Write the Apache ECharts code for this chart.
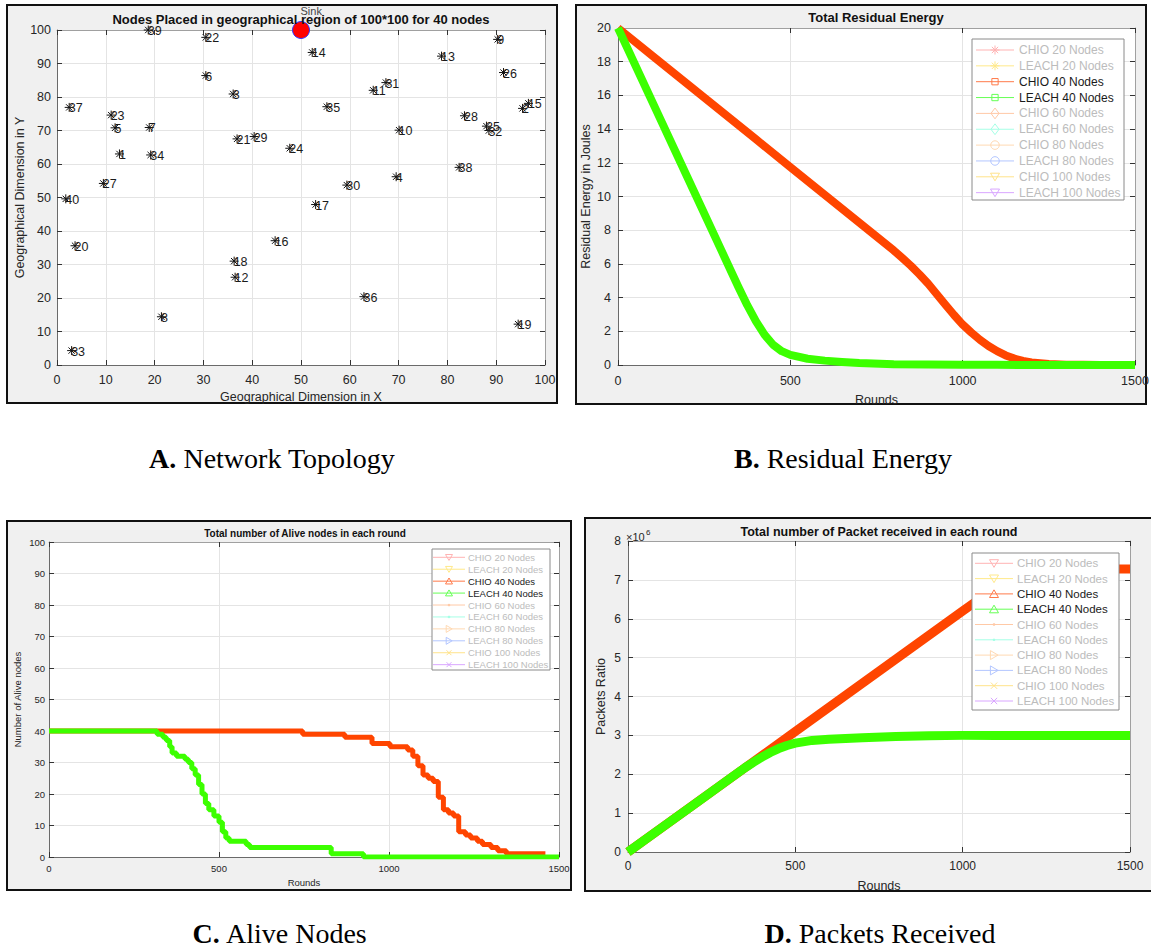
<!DOCTYPE html>
<html><head><meta charset="utf-8">
<script src="https://cdn.jsdelivr.net/npm/echarts@6/dist/echarts.min.js"></script>
<style>html,body{margin:0;padding:0;background:#fff}#c{width:1151px;height:949px}</style>
</head><body><div id="c"></div>
<script>
// ---------------- DATA ----------------
// A. Network topology
const nodeIds = [39,22,6,3,37,23,5,7,21,29,1,34,27,40,20,18,12,8,33,16,17,36,19,14,35,24,30,4,10,11,31,13,9,26,28,25,32,2,15,38];
const nodeX = [18.7,30.5,30.5,36.1,2.5,11.1,11.9,18.9,36.9,40.4,12.8,19.2,9.5,1.8,3.7,36.3,36.5,21.4,3.0,44.7,53.0,62.9,94.5,52.3,55.3,47.7,59.4,69.5,70.1,64.8,67.4,78.8,90.3,91.5,83.5,88.0,88.5,95.4,96.6,82.4];
const nodeY = [100,97.8,86.4,80.9,76.9,74.6,70.8,70.9,67.5,68.2,63.0,62.7,54.2,49.6,35.6,31.0,26.2,14.4,4.3,37.1,47.9,20.4,12.2,93.3,77.1,64.7,53.7,56.2,70.1,82.0,84.3,92.2,97.2,87.3,74.4,71.3,70.0,76.6,78.1,59.0];
const sinkX = 50, sinkY = 100;

// B. Residual energy (Joules)
const roundsCHIO40B = [0,100,200,300,400,500,600,700,800,825,850,875,900,925,950,975,1000,1025,1050,1075,1100,1125,1150,1175,1200,1250,1300,1350,1400,1450,1500];
const energyCHIO40 =  [20,18.35,16.7,15.05,13.4,11.75,10.1,8.45,6.8,6.35,5.88,5.37,4.82,4.2,3.58,2.97,2.4,1.93,1.5,1.13,0.82,0.57,0.38,0.24,0.15,0.06,0.02,0.01,0.005,0,0];
const roundsLEACH40B = [0,100,200,300,325,350,375,400,425,450,475,500,550,600,650,700,800,900,1000,1100,1200,1300,1400,1500];
const energyLEACH40 =  [20,15.6,11.2,6.8,5.7,4.6,3.55,2.6,1.8,1.2,0.82,0.6,0.37,0.26,0.18,0.12,0.05,0.03,0.02,0.01,0.005,0,0,0];

// C. Alive nodes (step data: round where level starts, level)
const aliveRoundsCHIO40 = [0,746,870,950,1003,1055,1070,1085,1100,1115,1130,1145,1160,1175,1190,1205,1225,1240,1260,1275,1300,1320,1345,1460];
const aliveCHIO40 =       [40,39,38,36,35,34,32,29,26,25,24,19,15,14,13,8,7,6,5,4,3,2,1,1];
const aliveRoundsLEACH40 = [0,318,335,345,355,362,375,400,410,420,430,440,450,460,470,485,500,510,520,530,580,590,830,925,1500];
const aliveLEACH40 =       [40,39,38,37,35,33,32,31,30,28,26,23,20,17,15,13,11,8,6,5,4,3,1,0,0];

// D. Packets received
const roundsCHIO40D = [0,500,1000,1175,1200,1300,1400,1500];
const packetsCHIO40 = [0,3100000,6200000,7270000,7270000,7280000,7280000,7280000];
const roundsLEACH40D = [0,100,200,300,350,375,400,425,450,475,500,550,600,700,800,900,1000,1100,1200,1300,1400,1500];
const packetsLEACH40 = [0,620000,1240000,1860000,2170000,2310000,2440000,2560000,2660000,2740000,2800000,2870000,2900000,2940000,2970000,2990000,3000000,3000000,3000000,3000000,3000000,3000000];

// Legend entries
const legendNames = ['CHIO 20 Nodes','LEACH 20 Nodes','CHIO 40 Nodes','LEACH 40 Nodes','CHIO 60 Nodes','LEACH 60 Nodes','CHIO 80 Nodes','LEACH 80 Nodes','CHIO 100 Nodes','LEACH 100 Nodes'];
const legendActive = [false,false,true,true,false,false,false,false,false,false];

// Titles / captions
const titleA = 'Nodes Placed in geographical region of 100*100 for 40 nodes';
const titleB = 'Total Residual Energy';
const titleC = 'Total number of Alive nodes in each round';
const titleD = 'Total number of Packet received in each round';

// ---------------- STYLE / LAYOUT ----------------
const SANS = "'Liberation Sans', Arial, Helvetica, sans-serif";
const SERIF = "'Liberation Serif', 'Times New Roman', serif";
const RED = '#ff4500', GREEN = '#3cff00';
const symbolsB = ['star','star','square','square','diamond','diamond','circle','circle','tridown','tridown'];
const symbolsCD = ['tridown','tridown','triup','triup','dot','dot','triright','triright','x','x'];
const legendColors = ['#ffb3b3','#ffe98a','#ff7a4a','#66ff55','#ffc9a6','#a6ffe6','#ffd9b3','#b3c6ff','#ffe38a','#d9a6ff'];

const grids = [
  {left:57, top:30, width:488, height:335},
  {left:618, top:28, width:517, height:337},
  {left:49, top:542, width:510, height:315},
  {left:628, top:541, width:502, height:311}
];

function axes(gi, o) {
  const lab = {color:'#262626', fontSize:o.fs, fontFamily:SANS};
  const xb = {gridIndex:gi, type:'value', position:'bottom', min:o.xmin, max:o.xmax, interval:o.xint,
    axisLine:{show:true, onZero:false, lineStyle:{color:'#6a6a6a', width:1}},
    axisTick:{show:true, inside:true, length:5, lineStyle:{color:'#333'}},
    axisLabel:Object.assign({margin:o.xm, formatter: v => String(v)}, lab),
    splitLine:{show:true, lineStyle:{color:'#e4e4e4', width:1}},
    name:o.xname, nameLocation:'middle', nameGap:o.xgap, nameTextStyle:{color:'#262626', fontSize:o.nfs, fontFamily:SANS}};
  const xt = {gridIndex:gi, type:'value', position:'top', min:o.xmin, max:o.xmax, interval:o.xint,
    axisLine:{show:true, onZero:false, lineStyle:{color:'#a0a0a0', width:1}},
    axisTick:{show:true, inside:true, length:5, lineStyle:{color:'#333'}},
    axisLabel:{show:false}, splitLine:{show:false}};
  const yl = {gridIndex:gi, type:'value', position:'left', min:o.ymin, max:o.ymax, interval:o.yint,
    axisLine:{show:true, onZero:false, lineStyle:{color:'#6a6a6a', width:1}},
    axisTick:{show:true, inside:true, length:5, lineStyle:{color:'#333'}},
    axisLabel:Object.assign({margin:o.ym, formatter:o.yfmt || (v => String(v))}, lab),
    splitLine:{show:true, lineStyle:{color:'#e4e4e4', width:1}},
    name:o.yname, nameLocation:'middle', nameGap:o.ygap, nameTextStyle:{color:'#262626', fontSize:o.nfs, fontFamily:SANS}};
  const yr = {gridIndex:gi, type:'value', position:'right', min:o.ymin, max:o.ymax, interval:o.yint,
    axisLine:{show:true, onZero:false, lineStyle:{color:'#a0a0a0', width:1}},
    axisTick:{show:true, inside:true, length:5, lineStyle:{color:'#333'}},
    axisLabel:{show:false}, splitLine:{show:false}};
  return {x:[xb, xt], y:[yl, yr]};
}

const axA = axes(0, {xmin:0,xmax:100,xint:10,ymin:0,ymax:100,yint:10,fs:12.5,nfs:12.5,xm:8,ym:6,
  xname:'Geographical Dimension in X', xgap:25, yname:'Geographical Dimension in Y', ygap:30});
const axB = axes(1, {xmin:0,xmax:1500,xint:500,ymin:0,ymax:20,yint:2,fs:12.5,nfs:12.5,xm:9,ym:7,
  xname:'Rounds', xgap:28, yname:'Residual Energy in Joules', ygap:26});
const axC = axes(2, {xmin:0,xmax:1500,xint:500,ymin:0,ymax:100,yint:10,fs:9.5,nfs:9.5,xm:6,ym:4,
  xname:'Rounds', xgap:20, yname:'Number of Alive nodes', ygap:27});
const axD = axes(3, {xmin:0,xmax:1500,xint:500,ymin:0,ymax:8000000,yint:1000000,fs:12,nfs:12.5,xm:8,ym:7,
  yfmt: v => String(v/1000000),
  xname:'Rounds', xgap:27, yname:'Packets Ratio', ygap:21});

function symbolEls(kind, cx, cy, s, color) {
  const st = {stroke:color, fill:'none', lineWidth:1};
  const L = (x1,y1,x2,y2) => ({type:'line', shape:{x1,y1,x2,y2}, style:st, z:51});
  const P = pts => ({type:'polygon', shape:{points:pts}, style:st, z:51});
  switch (kind) {
    case 'star': return [L(cx-s,cy,cx+s,cy), L(cx,cy-s,cx,cy+s), L(cx-s*.7,cy-s*.7,cx+s*.7,cy+s*.7), L(cx-s*.7,cy+s*.7,cx+s*.7,cy-s*.7)];
    case 'square': return [{type:'rect', shape:{x:cx-s*.7,y:cy-s*.7,width:s*1.4,height:s*1.4}, style:st, z:51}];
    case 'diamond': return [P([[cx,cy-s*1.2],[cx+s*.9,cy],[cx,cy+s*1.2],[cx-s*.9,cy]])];
    case 'circle': return [{type:'circle', shape:{cx, cy, r:s*.95}, style:st, z:51}];
    case 'tridown': return [P([[cx-s,cy-s*.8],[cx+s,cy-s*.8],[cx,cy+s*.9]])];
    case 'triup': return [P([[cx-s,cy+s*.8],[cx+s,cy+s*.8],[cx,cy-s*.9]])];
    case 'triright': return [P([[cx-s*.8,cy-s],[cx-s*.8,cy+s],[cx+s*.9,cy]])];
    case 'dot': return [{type:'circle', shape:{cx, cy, r:1.3}, style:{fill:color}, z:51}];
    case 'x': return [L(cx-s*.7,cy-s*.7,cx+s*.7,cy+s*.7), L(cx-s*.7,cy+s*.7,cx+s*.7,cy-s*.7)];
  }
  return [];
}

function legendEls(c) {
  const els = [{type:'rect', shape:{x:c.x, y:c.y, width:c.w, height:c.h},
    style:{fill:'#fff', stroke:'#8a8a8a', lineWidth:1}, z:50}];
  legendNames.forEach((nm, i) => {
    const yy = c.y0 + i*c.step;
    const col = legendColors[i];
    els.push({type:'line', shape:{x1:c.l0, y1:yy, x2:c.l1, y2:yy}, style:{stroke:col, lineWidth:1}, z:51});
    symbolEls(c.syms[i], (c.l0+c.l1)/2, yy, c.s, col).forEach(e => els.push(e));
    els.push({type:'text', x:c.tx, y:yy, z:52, style:{text:nm, fill: legendActive[i] ? '#1a1a1a' : '#bcbcbc',
      font: c.fs + 'px ' + SANS, align:'left', verticalAlign:'middle', textAlign:'left', textVerticalAlign:'middle'}});
  });
  return els;
}

function txt(x, y, text, font, fill, align) {
  return {type:'text', x, y, z:20, style:{text, font, fill: fill || '#000', align: align||'center', verticalAlign:'middle',
    textAlign: align||'center', textVerticalAlign:'middle'}};
}
function caption(x, y, letter, rest) {
  return {type:'text', x, y, z:20, style:{text:'{b|' + letter + '}{n|' + rest + '}',
    rich:{b:{fontFamily:SERIF, fontSize:28, fontWeight:'bold', fill:'#000', color:'#000'},
          n:{fontFamily:SERIF, fontSize:28, fill:'#000', color:'#000'}},
    font:'28px ' + SERIF, align:'center', verticalAlign:'middle', textAlign:'center', textVerticalAlign:'middle'}};
}

const frames = [
  {x:7, y:5, w:550, h:398},
  {x:576, y:5, w:570, h:399},
  {x:7, y:521, w:564, h:369},
  {x:585, y:518, w:580, h:373}
].map(f => ({type:'rect', shape:{x:f.x, y:f.y, width:f.w, height:f.h}, z:-10,
  style:{fill:'#f0f0f0', stroke:'#111', lineWidth:2}}));

const graphicEls = [].concat(
  frames,
  [
    txt(301, 19, titleA, 'bold 13px ' + SANS, '#111'),
    txt(876, 17, titleB, 'bold 13px ' + SANS, '#111'),
    txt(305, 533, titleC, 'bold 10px ' + SANS, '#111'),
    txt(879, 532, titleD, 'bold 12.5px ' + SANS, '#111'),
    txt(626, 537, '\u00d710', '11px ' + SANS, '#262626', 'left'),
    txt(646, 532, '6', '8px ' + SANS, '#262626', 'left'),
    caption(272, 458, 'A.', ' Network Topology'),
    caption(843, 458, 'B.', ' Residual Energy'),
    caption(280, 933, 'C.', ' Alive Nodes'),
    caption(880, 933, 'D.', ' Packets Received')
  ],
  legendEls({x:972, y:39, w:152, h:161, y0:50, step:15.85, l0:976, l1:1014, tx:1019, fs:12, s:4.5, syms:symbolsB}),
  legendEls({x:432, y:549, w:118, h:121, y0:557.3, step:11.93, l0:433, l1:465, tx:468, fs:9.5, s:3.5, syms:symbolsCD}),
  legendEls({x:972, y:553, w:147, h:157, y0:563.3, step:15.3, l0:975, l1:1013, tx:1017, fs:11.5, s:4.5, syms:symbolsCD})
);

const zip = (a, b) => a.map((v, i) => [v, b[i]]);

const series = [
  {type:'scatter', xAxisIndex:0, yAxisIndex:0, clip:false, z:3,
    data: nodeX.map((x, i) => [x, nodeY[i], nodeIds[i]]),
    symbol:'path://M0,5L10,5M5,0L5,10M1.5,1.5L8.5,8.5M1.5,8.5L8.5,1.5', symbolSize:9,
    itemStyle:{color:'transparent', borderColor:'#111', borderWidth:1, opacity:1},
    label:{show:true, formatter: p => String(p.data[2]), position:[4.5, 6], align:'left', verticalAlign:'middle',
      fontSize:12.5, fontFamily:SANS, color:'#1a1a1a', opacity:1, textBorderWidth:0}},
  {type:'scatter', xAxisIndex:0, yAxisIndex:0, clip:false, z:4,
    data:[[sinkX, sinkY]], symbol:'circle', symbolSize:17,
    itemStyle:{color:'#ff0000', borderColor:'#3535ff', borderWidth:1, opacity:1},
    label:{show:true, formatter:'Sink', position:[8.5, -10], align:'left', verticalAlign:'middle',
      fontSize:11, fontFamily:SANS, color:'#444', textBorderWidth:0}},
  {type:'line', xAxisIndex:2, yAxisIndex:2, data:zip(roundsCHIO40B, energyCHIO40), showSymbol:false,
    lineStyle:{color:RED, width:8, join:'round'}, itemStyle:{color:RED}, z:3},
  {type:'line', xAxisIndex:2, yAxisIndex:2, data:zip(roundsLEACH40B, energyLEACH40), showSymbol:false,
    lineStyle:{color:GREEN, width:8, join:'round'}, itemStyle:{color:GREEN}, z:4},
  {type:'line', xAxisIndex:4, yAxisIndex:4, step:'end', data:zip(aliveRoundsCHIO40, aliveCHIO40), showSymbol:false,
    lineStyle:{color:RED, width:5}, itemStyle:{color:RED}, z:3},
  {type:'line', xAxisIndex:4, yAxisIndex:4, step:'end', data:zip(aliveRoundsLEACH40, aliveLEACH40), showSymbol:false,
    lineStyle:{color:GREEN, width:5}, itemStyle:{color:GREEN}, z:4},
  {type:'line', xAxisIndex:6, yAxisIndex:6, data:zip(roundsCHIO40D, packetsCHIO40), showSymbol:false,
    lineStyle:{color:RED, width:9, join:'round'}, itemStyle:{color:RED}, z:3},
  {type:'line', xAxisIndex:6, yAxisIndex:6, data:zip(roundsLEACH40D, packetsLEACH40), showSymbol:false,
    lineStyle:{color:GREEN, width:9, join:'round'}, itemStyle:{color:GREEN}, z:4}
];

const chart = echarts.init(document.getElementById('c'), null, {renderer:'svg', width:1151, height:949});
chart.setOption({
  animation:false,
  backgroundColor:'#ffffff',
  textStyle:{fontFamily:SANS},
  grid: grids.map(g => Object.assign({show:true, backgroundColor:'#ffffff', borderWidth:0, containLabel:false, outerBoundsMode:'none'}, g)),
  xAxis: [].concat(axA.x, axB.x, axC.x, axD.x),
  yAxis: [].concat(axA.y, axB.y, axC.y, axD.y),
  graphic: {elements: graphicEls},
  series
});
</script>
</body></html>
